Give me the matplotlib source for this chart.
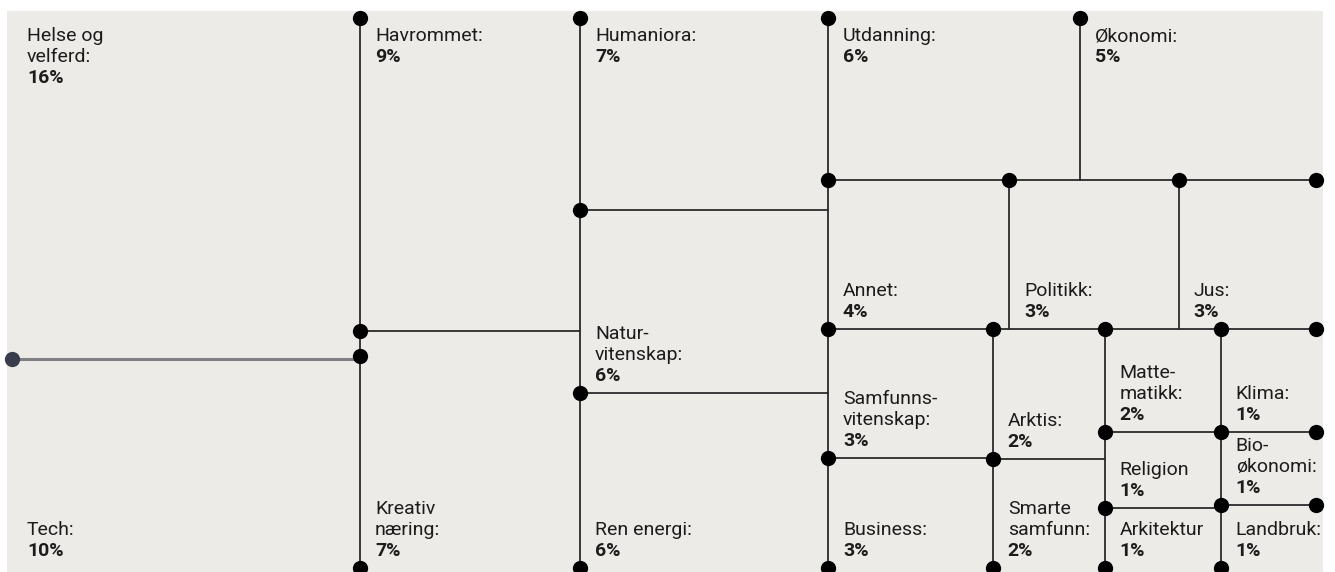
import matplotlib.pyplot as plt
from matplotlib.patches import Rectangle

plt.rcParams['font.family'] = ['Roboto', 'DejaVu Sans']

# tile names, printed percentages and the area share of each tile
names = ['Helse og\nvelferd:', 'Tech:', 'Havrommet:', 'Kreativ\nnæring:',
         'Humaniora:', 'Natur-\nvitenskap:', 'Ren energi:', 'Utdanning:',
         'Økonomi:', 'Annet:', 'Politikk:', 'Jus:', 'Samfunns-\nvitenskap:',
         'Business:', 'Arktis:', 'Smarte\nsamfunn:', 'Matte-\nmatikk:',
         'Religion', 'Arkitektur', 'Klima:', 'Bio-\nøkonomi:', 'Landbruk:']
pct_labels = ['16%', '10%', '9%', '7%', '7%', '6%', '6%', '6%', '5%', '4%', '3%',
              '3%', '3%', '3%', '2%', '2%', '2%', '1%', '1%', '1%', '1%', '1%']
shares = [16.55, 10.14, 9.60, 7.27, 6.64, 6.33, 6.05, 5.69, 5.33, 3.76, 3.53,
          2.85, 2.97, 2.53, 2.03, 1.70, 1.67, 1.23, 0.97, 1.37, 0.97, 0.84]

# slice-and-dice structure: 'h' splits side by side, 'v' stacks top to bottom
layout = ('h', [
    ('v', [0, 1]),
    ('v', [2, 3]),
    ('v', [4, 5, 6]),
    ('v', [
        ('h', [7, 8]),
        ('h', [9, 10, 11]),
        ('h', [('v', [12, 13]), ('v', [14, 15]), ('v', [16, 17, 18]), ('v', [19, 20, 21])]),
    ]),
])

BG = '#edebe7'
INK = '#1c1c1c'
LEFT, TOP, RIGHT, BOTTOM = 12, 18, 1316, 568


def total(node):
    if isinstance(node, int):
        return shares[node]
    return sum(total(c) for c in node[1])


def place(node, x0, y0, x1, y1, out):
    if isinstance(node, int):
        out[node] = (x0, y0, x1, y1)
        return
    d, kids = node
    tot = total(node)
    pos = x0 if d == 'h' else y0
    for k in kids:
        frac = total(k) / tot
        if d == 'h':
            w = (x1 - x0) * frac
            place(k, pos, y0, pos + w, y1, out)
        else:
            w = (y1 - y0) * frac
            place(k, x0, pos, x1, pos + w, out)
        pos += w


rects = {}
place(layout, LEFT, TOP, RIGHT, BOTTOM, rects)

fig = plt.figure(figsize=(13.35, 5.72), dpi=100)
ax = fig.add_axes([0, 0, 1, 1])
ax.set_xlim(0, 1335)
ax.set_ylim(572, 0)
ax.axis('off')

ax.add_patch(Rectangle((7, 11), 1316, 570, facecolor=BG, edgecolor='none', zorder=0))

dots = []
for i, (x0, y0, x1, y1) in rects.items():
    at_top = abs(y0 - TOP) < 0.5
    at_left = abs(x0 - LEFT) < 0.5
    if i == 1:
        # the root stem
        ax.plot([x0, x1], [y0, y0], color='#808084', lw=2.2, zorder=2, solid_capstyle='butt')
        dots.append((x0, y0, '#393c4a'))
        dots.append((x1, y0 - 3, 'black'))
        continue
    if not at_top:
        ax.plot([x0, x1], [y0, y0], color='#2b2b2b', lw=1.3, zorder=2)
        if abs(x1 - RIGHT) < 0.5:
            dots.append((x1, y0, 'black'))
    if not at_left:
        ax.plot([x0, x0], [y0, y1], color='#2b2b2b', lw=1.3, zorder=2)
        if abs(y1 - BOTTOM) < 0.5:
            dots.append((x0, y1, 'black'))
    if not (at_top and at_left):
        dots.append((x0, y0, 'black'))

for x, y, c in dots:
    ax.plot(x, y, 'o', ms=11, color=c, mec='none', zorder=3)

LH = 21
for i, (x0, y0, x1, y1) in rects.items():
    lines = names[i].split('\n') + [pct_labels[i]]
    n = len(lines)
    if abs(y0 - TOP) < 0.5:
        first = y0 + 23
    else:
        first = y1 - 12 - LH * (n - 1)
    for k, line in enumerate(lines):
        ax.text(x0 + 15, first + k * LH, line, fontsize=14, color=INK,
                weight='bold' if k == n - 1 else 'normal', va='baseline', ha='left', zorder=4)

fig.savefig('out.png', dpi=100, facecolor='white')
